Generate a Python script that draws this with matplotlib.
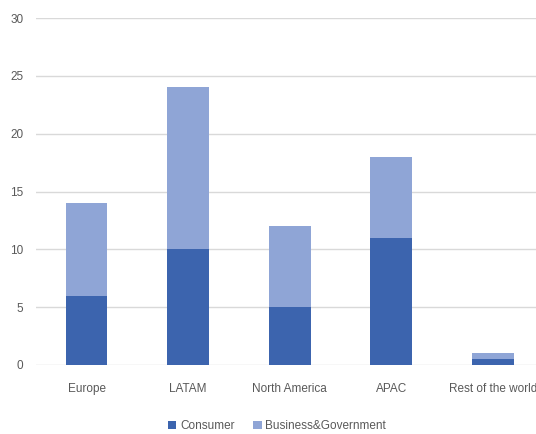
import matplotlib.pyplot as plt

regions = ['Europe', 'LATAM', 'North America', 'APAC', 'Rest of the world']
consumer = [6, 10, 5, 11, 0.5]
business = [8, 14, 7, 7, 0.5]

dark_blue = '#3c64ae'
light_blue = '#8fa5d6'
text_grey = '#595959'
grid_grey = '#d9d9d9'

plt.rcParams['font.family'] = ['Liberation Sans', 'DejaVu Sans']

fig = plt.figure(figsize=(5.36, 4.34), dpi=100)
ax = fig.add_axes([0.067, 0.159, 0.947, 0.7995])

x = range(len(regions))
ax.bar(x, consumer, width=0.41, color=dark_blue, label='Consumer', zorder=3)
ax.bar(x, business, width=0.41, bottom=consumer, color=light_blue,
       label='Business&Government', zorder=3)

ax.set_xlim(-0.5, 4.5)
ax.set_ylim(0, 30)
ax.set_yticks(range(0, 31, 5))
ax.set_xticks(list(x))
ax.set_xticklabels(regions)
ax.yaxis.grid(True, color=grid_grey, linewidth=1, zorder=0)
for s in ax.spines.values():
    s.set_visible(False)
ax.tick_params(axis='both', length=0, colors=text_grey, labelsize=8.5)
ax.tick_params(axis='x', pad=13)
ax.tick_params(axis='y', pad=9)

ax.legend(loc='lower center', bbox_to_anchor=(0.475, -0.225), ncol=2, frameon=False,
          fontsize=8.5, handlelength=0.7, handleheight=0.7, handletextpad=0.3,
          columnspacing=1.6, labelcolor=text_grey)

fig.savefig('out.png', dpi=100)
